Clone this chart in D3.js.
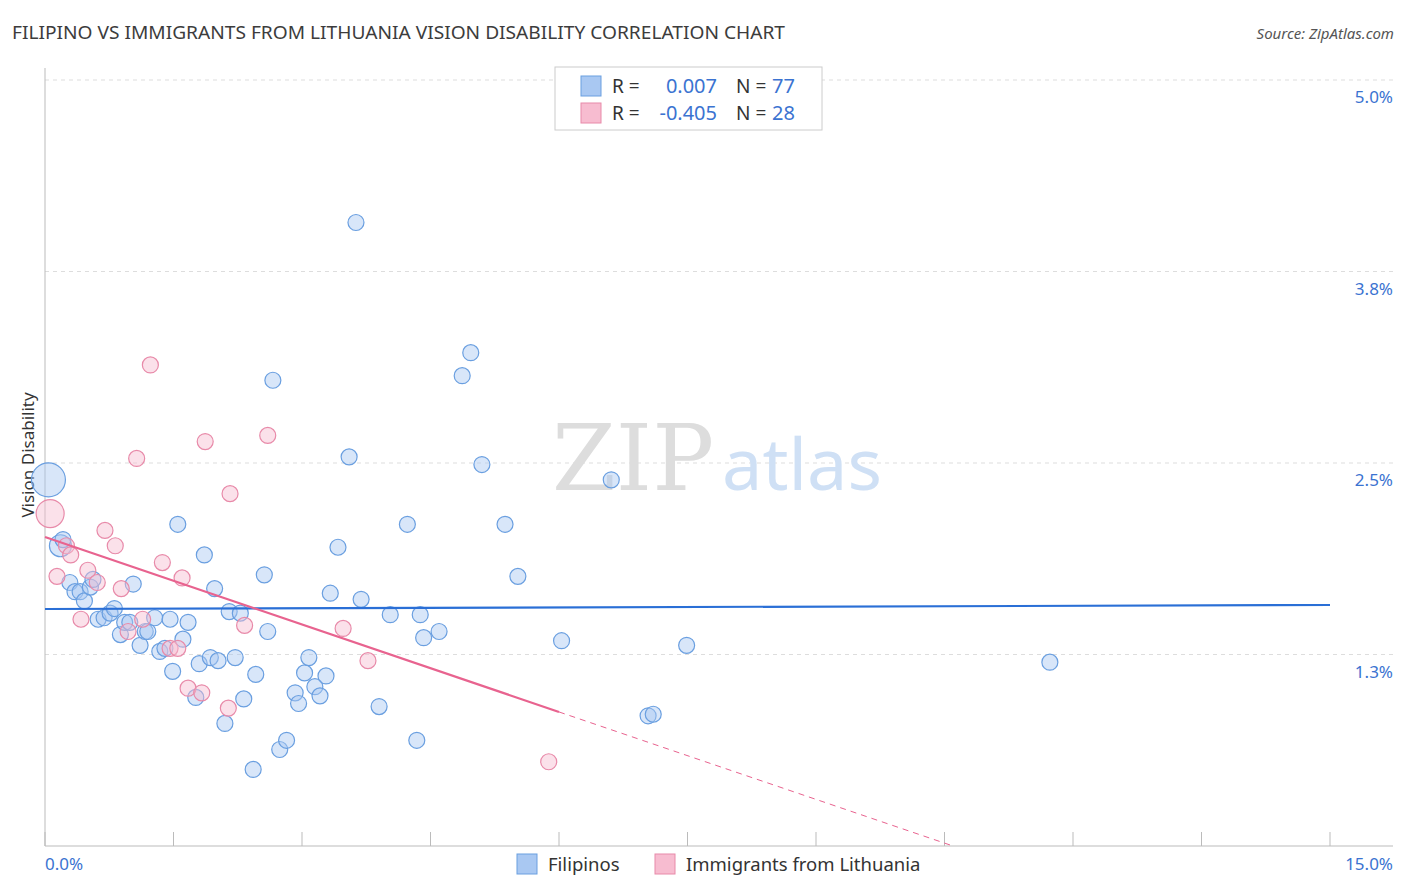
<!DOCTYPE html>
<html><head><meta charset="utf-8">
<script src="https://cdn.jsdelivr.net/npm/d3@7"></script>
<style>body{margin:0;background:#fff;font-family:"Noto Sans",Roboto,sans-serif}</style>
</head><body><div id="chart"></div>
<script>
const width = 1406, height = 892;

// Filipinos: [x %, y %]
const filipinos = [
  [0.04,2.39],[0.18,1.96],[0.21,2.00],[0.29,1.72],[0.35,1.66],[0.41,1.66],[0.46,1.60],[0.53,1.69],
  [0.56,1.74],[0.62,1.48],[0.69,1.49],[0.76,1.52],[0.81,1.55],[0.88,1.38],[0.93,1.46],[0.99,1.46],
  [1.03,1.71],[1.11,1.31],[1.17,1.40],[1.20,1.40],[1.28,1.49],[1.34,1.27],[1.40,1.29],[1.46,1.48],
  [1.49,1.14],[1.55,2.10],[1.61,1.35],[1.67,1.46],[1.76,0.97],[1.80,1.19],[1.86,1.90],[1.93,1.23],
  [1.98,1.68],[2.02,1.21],[2.10,0.80],[2.15,1.53],[2.22,1.23],[2.28,1.52],[2.32,0.96],[2.43,0.50],
  [2.46,1.12],[2.56,1.77],[2.60,1.40],[2.66,3.04],[2.74,0.63],[2.82,0.69],[2.92,1.00],[2.96,0.93],
  [3.03,1.13],[3.08,1.23],[3.15,1.04],[3.21,0.98],[3.28,1.11],[3.33,1.65],[3.42,1.95],[3.55,2.54],
  [3.63,4.07],[3.69,1.61],[3.90,0.91],[4.03,1.51],[4.23,2.10],[4.34,0.69],[4.38,1.51],[4.42,1.36],
  [4.60,1.40],[4.87,3.07],[4.97,3.22],[5.10,2.49],[5.37,2.10],[5.52,1.76],[6.03,1.34],[6.61,2.39],
  [7.04,0.85],[7.10,0.86],[7.49,1.31],[11.73,1.20]
];
const filipinoRadius = [17, 11];

// Immigrants from Lithuania: [x %, y %]
const lithuania = [
  [0.06,2.17],[0.14,1.76],[0.25,1.96],[0.30,1.90],[0.42,1.48],[0.50,1.80],[0.61,1.72],[0.70,2.06],
  [0.82,1.96],[0.89,1.68],[0.97,1.40],[1.07,2.53],[1.14,1.48],[1.23,3.14],[1.37,1.85],[1.46,1.29],
  [1.55,1.29],[1.60,1.75],[1.67,1.03],[1.83,1.00],[1.87,2.64],[2.14,0.90],[2.16,2.30],[2.33,1.44],
  [2.60,2.68],[3.48,1.42],[3.77,1.21],[5.88,0.55]
];
const lithuaniaRadius = [14];

const blueTrend = [[0, 1.547], [15, 1.573]];
const pinkTrendSolid = [[0, 2.017], [6.0, 0.875]];
const pinkTrendDash = [[6.0, 0.875], [10.6, 0]];

const yTicks = [1.25, 2.5, 3.75, 5.0];
const yTickLabels = ["1.3%", "2.5%", "3.8%", "5.0%"];
const xTicks = d3.range(0, 15.01, 1.5);

const x = d3.scaleLinear().domain([0, 15]).range([45, 1330]);
const y = d3.scaleLinear().domain([0, 5]).range([846, 80]);

const svg = d3.select("#chart").append("svg").attr("width", width).attr("height", height);

// Title & source
svg.append("text").attr("x", 12).attr("y", 39).attr("font-size", 18).attr("fill", "#3c3c3c")
  .attr("textLength", 773).attr("lengthAdjust", "spacingAndGlyphs")
  .text("FILIPINO VS IMMIGRANTS FROM LITHUANIA VISION DISABILITY CORRELATION CHART");
svg.append("text").attr("x", 1394).attr("y", 39).attr("text-anchor", "end").attr("font-size", 15)
  .attr("font-style", "italic").attr("fill", "#555").text("Source: ZipAtlas.com");

// Gridlines
svg.append("g").selectAll("line").data(yTicks).join("line")
  .attr("x1", 45).attr("x2", 1393).attr("y1", d => y(d)).attr("y2", d => y(d))
  .attr("stroke", "#ddd").attr("stroke-dasharray", "4,4");

// Axes lines
svg.append("line").attr("x1", 45).attr("x2", 45).attr("y1", 68).attr("y2", 846).attr("stroke", "#bbb");
svg.append("line").attr("x1", 45).attr("x2", 1393).attr("y1", 846).attr("y2", 846).attr("stroke", "#bbb");
svg.append("g").selectAll("line").data(xTicks).join("line")
  .attr("x1", d => x(d)).attr("x2", d => x(d)).attr("y1", 832).attr("y2", 846).attr("stroke", "#bbb");

// Y labels
svg.append("g").selectAll("text").data(yTicks).join("text")
  .attr("x", 1393).attr("y", d => y(d) + 23).attr("text-anchor", "end")
  .attr("font-size", 17).attr("fill", "#3b73d1").text((d, i) => yTickLabels[i]);
svg.append("text").attr("x", 45).attr("y", 870).attr("font-size", 17).attr("fill", "#3b73d1").text("0.0%");
svg.append("text").attr("x", 1393).attr("y", 870).attr("text-anchor", "end").attr("font-size", 17).attr("fill", "#3b73d1").text("15.0%");

svg.append("text").attr("transform", "translate(34,455) rotate(-90)").attr("text-anchor", "middle")
  .attr("font-size", 17).attr("fill", "#333").text("Vision Disability");

// Watermark
svg.append("text").attr("x", 633).attr("y", 490).attr("text-anchor", "middle")
  .attr("font-family", "DejaVu Serif, serif").attr("font-size", 92).attr("fill", "#ddd").text("ZIP");
svg.append("text").attr("x", 802).attr("y", 490).attr("text-anchor", "middle")
  .attr("font-size", 72).attr("fill", "#cfe0f5").text("atlas");

// Points
function drawPoints(data, radii, fill, stroke) {
  svg.append("g").selectAll("circle").data(data).join("circle")
    .attr("cx", d => x(d[0])).attr("cy", d => y(d[1]))
    .attr("r", (d, i) => radii[i] || 8)
    .attr("fill", fill).attr("fill-opacity", 0.45)
    .attr("stroke", stroke).attr("stroke-width", 1.2);
}
drawPoints(filipinos, filipinoRadius, "#a9c8f2", "#6a9fe0");
drawPoints(lithuania, lithuaniaRadius, "#f7bcd0", "#e88aa9");

// Trend lines
const line = d3.line().x(d => x(d[0])).y(d => y(d[1]));
svg.append("path").attr("d", line(blueTrend)).attr("stroke", "#2a6fd6").attr("stroke-width", 2.2).attr("fill", "none");
svg.append("path").attr("d", line(pinkTrendSolid)).attr("stroke", "#e8638f").attr("stroke-width", 2.2).attr("fill", "none");
svg.append("path").attr("d", line(pinkTrendDash)).attr("stroke", "#e8638f").attr("stroke-width", 1).attr("stroke-dasharray", "6,5").attr("fill", "none");

// Top legend
const lg = svg.append("g");
lg.append("rect").attr("x", 555).attr("y", 67).attr("width", 267).attr("height", 63).attr("fill", "#fff").attr("stroke", "#ccc");
const legendRows = [
  { r: "0.007", n: "77", fill: "#a9c8f2", stroke: "#6a9fe0" },
  { r: "-0.405", n: "28", fill: "#f7bcd0", stroke: "#e88aa9" }
];
legendRows.forEach((d, i) => {
  const yy = 86 + i * 27;
  lg.append("rect").attr("x", 581).attr("y", yy - 10).attr("width", 20).attr("height", 20)
    .attr("fill", d.fill).attr("stroke", d.stroke);
  lg.append("text").attr("x", 612).attr("y", yy + 7).attr("font-size", 19).attr("fill", "#333").text("R =");
  lg.append("text").attr("x", 717).attr("y", yy + 7).attr("text-anchor", "end").attr("font-size", 20).attr("fill", "#3b73d1").text(d.r);
  lg.append("text").attr("x", 736).attr("y", yy + 7).attr("font-size", 19).attr("fill", "#333").text("N =");
  lg.append("text").attr("x", 772).attr("y", yy + 7).attr("font-size", 20).attr("fill", "#3b73d1").text(d.n);
});

// Bottom legend
const bl = [
  { label: "Filipinos", x: 517, fill: "#a9c8f2", stroke: "#6a9fe0" },
  { label: "Immigrants from Lithuania", x: 655, fill: "#f7bcd0", stroke: "#e88aa9" }
];
bl.forEach(d => {
  svg.append("rect").attr("x", d.x).attr("y", 854).attr("width", 20).attr("height", 20).attr("fill", d.fill).attr("stroke", d.stroke);
  svg.append("text").attr("x", d.x + 31).attr("y", 871).attr("font-size", 18.5).attr("fill", "#333").text(d.label);
});
</script></body></html>
